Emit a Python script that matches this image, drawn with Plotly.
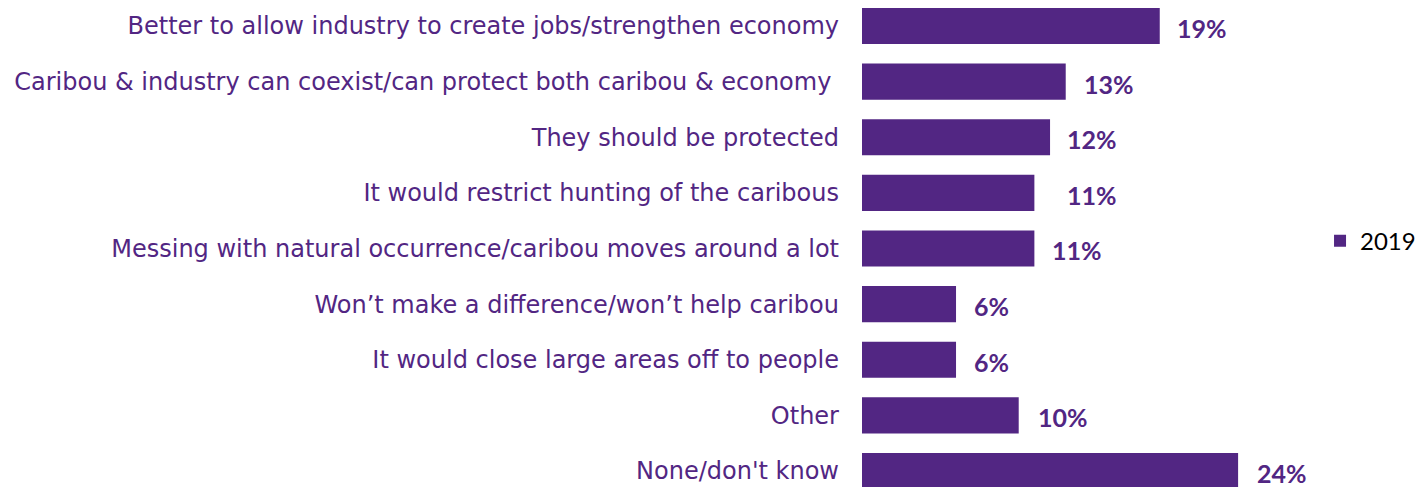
import plotly.graph_objects as go

categories = [
    "Better to allow industry to create jobs/strengthen economy",
    "Caribou & industry can coexist/can protect both caribou & economy\u00a0",
    "They should be protected",
    "It would restrict hunting of the caribous",
    "Messing with natural occurrence/caribou moves around a lot",
    "Won\u2019t make a difference/won\u2019t help caribou",
    "It would close large areas off to people",
    "Other",
    "None/don't know",
]
values_2019 = [19, 13, 12, 11, 11, 6, 6, 10, 24]
value_labels = ["19%", "13%", "12%", "11%", "11%", "6%", "6%", "10%", "24%"]
label_shift = [15, 16, 15, 31, 16, 16, 16, 17, 17]

PURPLE = "#522683"

fig = go.Figure()
fig.add_trace(go.Bar(
    y=categories, x=values_2019, orientation="h", name="2019",
    marker=dict(color=PURPLE, line=dict(width=0)),
))

for c, v, t, s in zip(categories, values_2019, value_labels, label_shift):
    fig.add_annotation(x=v, y=c, text=t, showarrow=False, xanchor="left",
                       yanchor="middle", xshift=s, yshift=-2,
                       font=dict(family="Lato", size=25, color=PURPLE, weight="bold"))

fig.update_layout(
    width=1420, height=487,
    margin=dict(l=862, r=120, t=0, b=0),
    plot_bgcolor="white", paper_bgcolor="white",
    bargap=0.35,
    showlegend=True,
    legend=dict(xref="container", yref="container", x=0.9296, y=0.505,
                xanchor="left", yanchor="middle",
                font=dict(family="Lato", size=24, color="black"),
                itemwidth=30),
    xaxis=dict(range=[0, 27.95], visible=False),
    yaxis=dict(range=[8.288, -0.467], showgrid=False, zeroline=False,
               showline=False, ticks="", ticklabelstandoff=22,
               tickfont=dict(family="DejaVu Sans", size=24, color=PURPLE)),
)

fig.write_html("out.html", config={"displayModeBar": False},
               post_script="document.body.style.margin='0';document.body.style.padding='0';")
